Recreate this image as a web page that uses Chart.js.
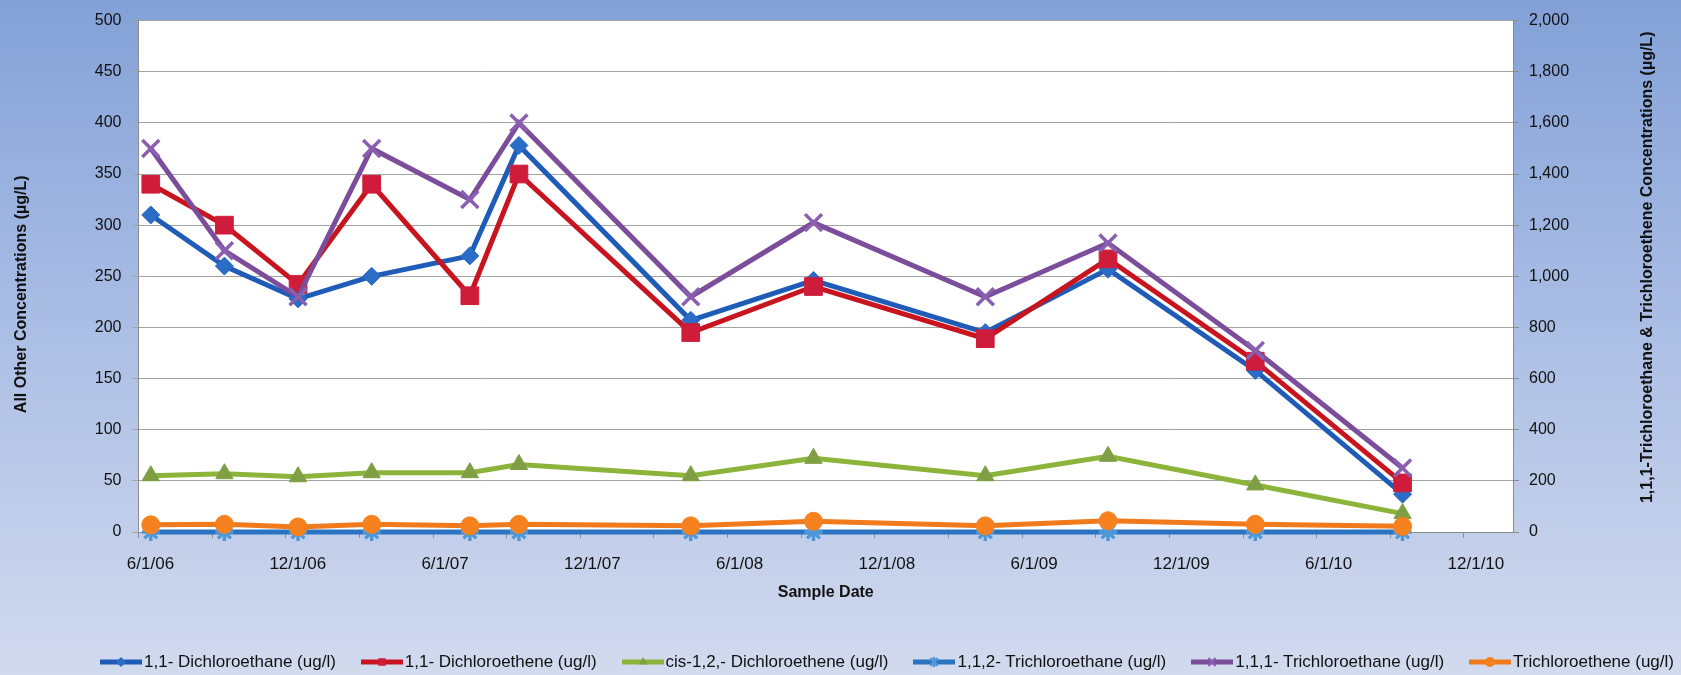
<!DOCTYPE html>
<html>
<head>
<meta charset="utf-8">
<title>VOC concentrations</title>
<script src="https://cdn.jsdelivr.net/npm/chart.js@4.4.1/dist/chart.umd.min.js"></script>
<style>
  html, body { margin: 0; padding: 0; }
  body {
    width: 1681px; height: 675px; overflow: hidden; position: relative;
    background: linear-gradient(to bottom, #83a1d7 0%, #a8bce4 45%, #d2daee 100%);
    font-family: "Liberation Sans", Arial, sans-serif;
  }
  #chart { position: absolute; left: 0; top: 0; }
  #legend {
    position: absolute; left: 100px; right: 7px; top: 652px;
    display: flex; justify-content: space-between; align-items: center;
    font-size: 17px; color: #111;
  }
  .item { display: flex; align-items: center; white-space: nowrap; }
  .item canvas { margin-right: 2px; }
</style>
</head>
<body>
<canvas id="chart" width="1681" height="675"></canvas>
<div id="legend"></div>
<script>
// sample months (year-month), one per sampling event
const sampleDates = ['2006-06', '2006-09', '2006-12', '2007-03', '2007-07', '2007-09',
                     '2008-04', '2008-09', '2009-04', '2009-09', '2010-03', '2010-09'];

// left axis series (ug/L)
const dichloroethane11 = [310, 260, 228, 250, 270, 378, 207, 246, 195, 257, 158, 37];
const dichloroethene11 = [340, 300, 242, 340, 231, 350, 195, 240, 189, 267, 167, 48];
const cisDichloroethene = [55, 57, 54, 58, 58, 66, 55, 72, 55, 74, 46, 18];
const trichloroethane112 = [0, 0, 0, 0, 0, 0, 0, 0, 0, 0, 0, 0];

// right axis series (ug/L)
const trichloroethane111 = [1500, 1100, 920, 1500, 1300, 1600, 920, 1210, 920, 1130, 710, 250];
const trichloroethene = [28, 30, 20, 30, 24, 30, 24, 42, 24, 44, 30, 22];

const tickLabels = ['6/1/06', '12/1/06', '6/1/07', '12/1/07', '6/1/08',
                    '12/1/08', '6/1/09', '12/1/09', '6/1/10', '12/1/10'];

const FONT = '"Liberation Sans", Arial, sans-serif';
const TEXT = '#111111';
const AXIS = '#8c8c8c';

// x is measured in months from June 2006, each month centred in its slot
const X_MIN = -0.5;
const X_MAX = 55.5;

function monthIndex(ym) {
    const [y, m] = ym.split('-').map(Number);
    return (y - 2006) * 12 + (m - 6);
}

function labelMonth(label) {
    const [m, , yy] = label.split('/').map(Number);
    return (2000 + yy - 2006) * 12 + (m - 6);
}

function toPoints(values) {
    return values.map((v, i) => ({ x: monthIndex(sampleDates[i]), y: v }));
}

function series(label, values, axis, line, marker, style, radius, markerBorder, order) {
    return {
        label: label,
        data: toPoints(values),
        yAxisID: axis,
        borderColor: line,
        backgroundColor: line,
        borderWidth: 5,
        tension: 0,
        pointStyle: style,
        pointRadius: radius,
        pointHoverRadius: radius,
        pointBackgroundColor: marker,
        pointBorderColor: markerBorder || marker,
        pointBorderWidth: (style === 'crossRot' || style === 'star') ? 3.5 : 1,
        clip: false,
        order: order
    };
}

const datasets = [
    series('1,1- Dichloroethane (ug/l)', dichloroethane11, 'y', '#1f5cb8', '#2a6cc6', 'rectRot', 9, null, 6),
    series('1,1- Dichloroethene (ug/l)', dichloroethene11, 'y', '#c8141f', '#cf1c3a', 'rect', 12.5, null, 5),
    series('cis-1,2,- Dichloroethene (ug/l)', cisDichloroethene, 'y', '#8cb33a', '#7f9f45', 'triangle', 10, null, 4),
    series('1,1,2- Trichloroethane (ug/l)', trichloroethane112, 'y', '#2b74c2', '#9fd3f3', 'star', 9, '#4f98d8', 3),
    series('1,1,1- Trichloroethane (ug/l)', trichloroethane111, 'y2', '#7b4d9b', '#8b5fb0', 'crossRot', 12, '#8b5fb0', 2),
    series('Trichloroethene (ug/l)', trichloroethene, 'y2', '#f07a1c', '#f5821f', 'circle', 9, null, 1)
];

// white plot area on top of the page gradient
const plotBackground = {
    id: 'plotBackground',
    beforeDraw(chart) {
        const { ctx, chartArea } = chart;
        ctx.save();
        ctx.fillStyle = '#ffffff';
        ctx.fillRect(chartArea.left, chartArea.top, chartArea.right - chartArea.left, chartArea.bottom - chartArea.top);
        ctx.restore();
    }
};

// vertical axis titles, both reading bottom to top
const sideTitles = {
    id: 'sideTitles',
    afterDraw(chart) {
        const { ctx, chartArea, scales } = chart;
        const mid = (chartArea.top + chartArea.bottom) / 2;
        const titles = [
            { text: 'All Other Concentrations (µg/L)', x: scales.y.left + 22, y: mid + 18 },
            { text: '1,1,1-Trichloroethane & Trichloroethene Concentrations (µg/L)', x: scales.y2.right - 33, y: mid - 9 }
        ];
        ctx.save();
        ctx.font = 'bold 16px ' + FONT;
        ctx.fillStyle = TEXT;
        ctx.textAlign = 'center';
        ctx.textBaseline = 'middle';
        titles.forEach(t => {
            ctx.save();
            ctx.translate(t.x, t.y);
            ctx.rotate(-Math.PI / 2);
            ctx.fillText(t.text, 0, 0);
            ctx.restore();
        });
        ctx.restore();
    }
};

const chart = new Chart(document.getElementById('chart'), {
    type: 'line',
    data: { datasets: datasets },
    options: {
        responsive: false,
        animation: false,
        events: [],
        layout: { padding: { top: 17, bottom: 65, left: 0, right: 0 } },
        plugins: {
            legend: { display: false },
            tooltip: { enabled: false }
        },
        scales: {
            x: {
                type: 'linear',
                min: X_MIN,
                max: X_MAX,
                afterBuildTicks: (scale) => {
                    const ticks = [];
                    for (let v = X_MIN; v <= X_MAX; v += 3) { ticks.push({ value: v }); }
                    scale.ticks = ticks;
                },
                afterFit: (scale) => { scale.height = 78; },
                ticks: {
                    autoSkip: false,
                    maxRotation: 0,
                    labelOffset: 12,
                    padding: 16,
                    color: TEXT,
                    font: { family: FONT, size: 17 },
                    callback: (value) => {
                        const hit = tickLabels.find(l => labelMonth(l) === value + 0.5);
                        return hit || '';
                    }
                },
                grid: { drawOnChartArea: false, tickLength: 6, color: AXIS },
                border: { color: AXIS },
                title: {
                    display: true,
                    text: 'Sample Date',
                    color: TEXT,
                    font: { family: FONT, size: 16, weight: 'bold' },
                    padding: { top: 0, bottom: 8 }
                }
            },
            y: {
                position: 'left',
                min: 0,
                max: 500,
                afterFit: (scale) => { scale.width = 138.5; },
                ticks: {
                    stepSize: 50,
                    padding: 11,
                    color: TEXT,
                    font: { family: FONT, size: 16 }
                },
                grid: { color: '#a3a3a3', tickLength: 6 },
                border: { color: AXIS }
            },
            y2: {
                position: 'right',
                min: 0,
                max: 2000,
                afterFit: (scale) => { scale.width = 168; },
                ticks: {
                    stepSize: 200,
                    padding: 10,
                    color: TEXT,
                    font: { family: FONT, size: 16 },
                    callback: (value) => value.toLocaleString('en-US')
                },
                grid: { drawOnChartArea: false, tickLength: 6, color: AXIS },
                border: { color: AXIS }
            }
        }
    },
    plugins: [plotBackground, sideTitles]
});

// draw one marker shape into a legend swatch
function drawMarker(ctx, style, x, y, r, fill, stroke, lw) {
    ctx.beginPath();
    if (style === 'circle') {
        ctx.arc(x, y, r, 0, Math.PI * 2);
    } else if (style === 'rect') {
        ctx.rect(x - r * 0.75, y - r * 0.75, r * 1.5, r * 1.5);
    } else if (style === 'rectRot') {
        ctx.moveTo(x, y - r); ctx.lineTo(x + r, y); ctx.lineTo(x, y + r); ctx.lineTo(x - r, y);
        ctx.closePath();
    } else if (style === 'triangle') {
        ctx.moveTo(x, y - r); ctx.lineTo(x + r * 0.87, y + r * 0.5); ctx.lineTo(x - r * 0.87, y + r * 0.5);
        ctx.closePath();
    } else if (style === 'crossRot' || style === 'star') {
        const d = r * 0.75;
        ctx.moveTo(x - d, y - d); ctx.lineTo(x + d, y + d);
        ctx.moveTo(x + d, y - d); ctx.lineTo(x - d, y + d);
        if (style === 'star') { ctx.moveTo(x, y - r); ctx.lineTo(x, y + r); }
        ctx.lineWidth = lw; ctx.strokeStyle = stroke; ctx.stroke();
        return;
    }
    ctx.fillStyle = fill;
    ctx.fill();
}

// html legend built from the chart's datasets
const legend = document.getElementById('legend');
chart.data.datasets.forEach(ds => {
    const item = document.createElement('div');
    item.className = 'item';
    const sw = document.createElement('canvas');
    sw.width = 42; sw.height = 18;
    const c = sw.getContext('2d');
    c.strokeStyle = ds.borderColor;
    c.lineWidth = 5;
    c.beginPath(); c.moveTo(0, 9); c.lineTo(42, 9); c.stroke();
    drawMarker(c, ds.pointStyle, 21, 9, 5, ds.pointBackgroundColor, ds.pointBorderColor, 2.5);
    const txt = document.createElement('span');
    txt.textContent = ds.label;
    item.appendChild(sw);
    item.appendChild(txt);
    legend.appendChild(item);
});
</script>
</body>
</html>
